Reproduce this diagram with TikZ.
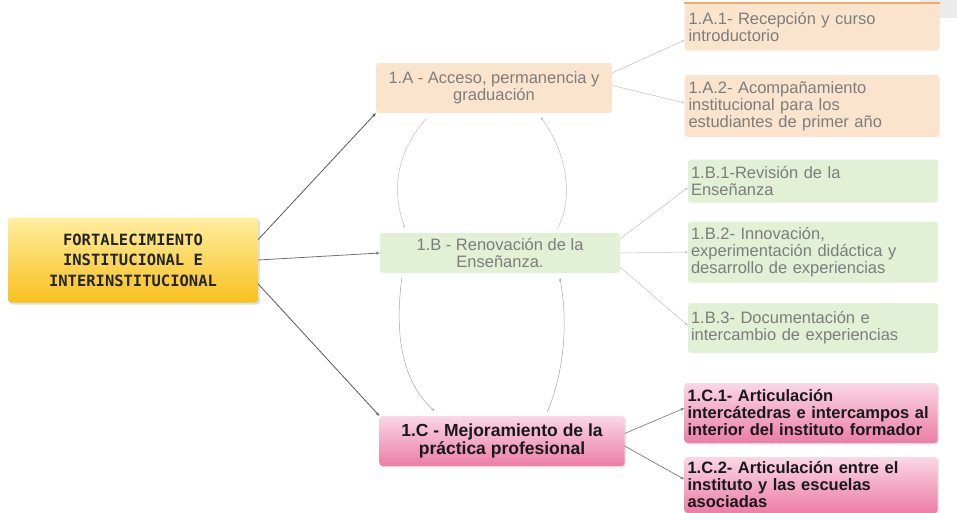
\documentclass[tikz,border=0pt]{standalone}
\usepackage{fontspec}
\setmainfont{Liberation Sans}
\newfontfamily\monob{DejaVu Sans Mono}
\usetikzlibrary{arrows.meta,calc,shadows}
\definecolor{fadetxt}{RGB}{125,125,125}
\definecolor{orfill}{RGB}{251,228,206}
\definecolor{orline}{RGB}{240,170,110}
\definecolor{grfill}{RGB}{226,240,214}
\definecolor{pktop}{RGB}{250,215,228}
\definecolor{pkbot}{RGB}{236,125,165}
\definecolor{yltop}{RGB}{255,238,160}
\definecolor{ylbot}{RGB}{248,192,30}
\tikzset{
  basebox/.style={rectangle, rounded corners=3pt, inner sep=3pt},
  rootbox/.style={basebox, top color=yltop, bottom color=ylbot, minimum width=250pt, minimum height=85pt,
    align=center, font=\monob\bfseries\fontsize{15.5}{20.5}\selectfont, text=black!85,
    drop shadow={shadow xshift=2pt, shadow yshift=-2pt, opacity=0.25}},
  orbox/.style={basebox, fill=orfill, text=fadetxt, font=\fontsize{16.5}{17}\selectfont},
  grbox/.style={basebox, fill=grfill, text=fadetxt, font=\fontsize{16.5}{17}\selectfont},
  pkbox/.style={basebox, top color=pktop, bottom color=pkbot, text=black!90,
    font=\bfseries\fontsize{16.5}{17}\selectfont,
    drop shadow={shadow xshift=1.5pt, shadow yshift=-1.5pt, opacity=0.2}},
  midA/.style={minimum width=236pt, minimum height=50pt, align=center},
  leafbox/.style={text width=247pt, align=left, inner xsep=2pt},
  darkcon/.style={draw=black!65, line width=0.8pt, -{Stealth[length=4pt,width=3pt]}},
  lightcon/.style={draw=black!25, line width=0.5pt, -{Stealth[length=3pt,width=2.5pt]}},
  pkcon/.style={draw=black!50, line width=0.7pt, -{Stealth[length=4pt,width=3pt]}},
}
\begin{document}
\begin{tikzpicture}[x=1pt,y=-1pt]
\useasboundingbox (0,0) rectangle (957,512);
\fill[black!8] (920,0) rectangle (957,18);

% root
\node[rootbox] (root) at (133,260) {FORTALECIMIENTO\\INSTITUCIONAL E\\INTERINSTITUCIONAL};

% level 2
\node[orbox, midA] (nA) at (494,88) {1.A - Acceso, permanencia y\\graduación};
\node[grbox, minimum width=240pt, minimum height=40pt, align=center] (nB) at (500,253) {1.B - Renovación de la\\Enseñanza.};
\node[pkbox, minimum width=245pt, minimum height=50pt, align=center, font=\bfseries\fontsize{17.5}{18}\selectfont] (nC) at (502,441) {1.C - Mejoramiento de la\\práctica profesional};

% leaves
\node[orbox, leafbox, minimum width=255pt, minimum height=47pt] (nA1) at (812,27) {1.A.1- Recepción y curso\\introductorio};
\draw[orline, line width=2pt] (nA1.north west) -- (nA1.north east);
\node[orbox, leafbox, minimum width=255pt, minimum height=62pt] (nA2) at (812,106) {1.A.2- Acompañamiento\\institucional para los\\estudiantes de primer año};
\node[grbox, leafbox, text width=244pt, inner xsep=3pt, minimum width=250pt, minimum height=43pt] (nB1) at (813,181) {1.B.1-Revisión de la\\Enseñanza};
\node[grbox, leafbox, text width=244pt, inner xsep=3pt, minimum width=250pt, minimum height=61pt] (nB2) at (813,252) {1.B.2- Innovación,\\experimentación didáctica y\\desarrollo de experiencias};
\node[grbox, leafbox, text width=244pt, inner xsep=3pt, minimum width=250pt, minimum height=50pt] (nB3) at (813,328) {1.B.3- Documentación e\\intercambio de experiencias};
\node[pkbox, leafbox, minimum width=253pt, minimum height=60pt] (nC1) at (811,413) {1.C.1- Articulación\\intercátedras e intercampos al\\interior del instituto formador};
\node[pkbox, leafbox, minimum width=253pt, minimum height=56pt] (nC2) at (811,485) {1.C.2- Articulación entre el\\instituto y las escuelas\\asociadas};

% root connectors
\draw[darkcon] ($(root.north east)!0.26!(root.south east)$) -- (nA.south west);
\draw[darkcon, draw=black!55] ($(root.north east)!0.5!(root.south east)$) -- (nB.west);
\draw[darkcon] ($(root.north east)!0.78!(root.south east)$) -- (nC.north west);

% A connectors
\draw[lightcon] ($(nA.north east)!0.2!(nA.south east)$) -- ($(nA1.north west)!0.78!(nA1.south west)$);
\draw[lightcon] ($(nA.north east)!0.45!(nA.south east)$) -- ($(nA2.north west)!0.45!(nA2.south west)$);
% B connectors
\draw[lightcon] ($(nB.north east)!0.15!(nB.south east)$) -- ($(nB1.north west)!0.65!(nB1.south west)$);
\draw[lightcon] (nB.east) -- (nB2.west);
\draw[lightcon] ($(nB.north east)!0.85!(nB.south east)$) -- ($(nB3.north west)!0.45!(nB3.south west)$);
% C connectors
\draw[pkcon] ($(nC.north east)!0.35!(nC.south east)$) -- ($(nC1.north west)!0.42!(nC1.south west)$);
\draw[pkcon] ($(nC.north east)!0.6!(nC.south east)$) -- ($(nC2.north west)!0.4!(nC2.south west)$);

% vertical curved links
\draw[lightcon] ($(nA.south west)+(50,6)$) .. controls (390,160) and (395,200) .. ($(nB.north west)+(25,-5)$);
\draw[lightcon] ($(nB.north west)+(178,-5)$) .. controls (575,195) and (565,150) .. ($(nA.south west)+(165,4)$);
\draw[lightcon, draw=black!35] ($(nB.south west)+(22,5)$) .. controls (395,330) and (400,380) .. ($(nC.north west)+(55,-5)$);
\draw[lightcon, draw=black!35] ($(nC.north west)+(168,-4)$) .. controls (565,370) and (568,320) .. ($(nB.south west)+(180,5)$);
\end{tikzpicture}
\end{document}
